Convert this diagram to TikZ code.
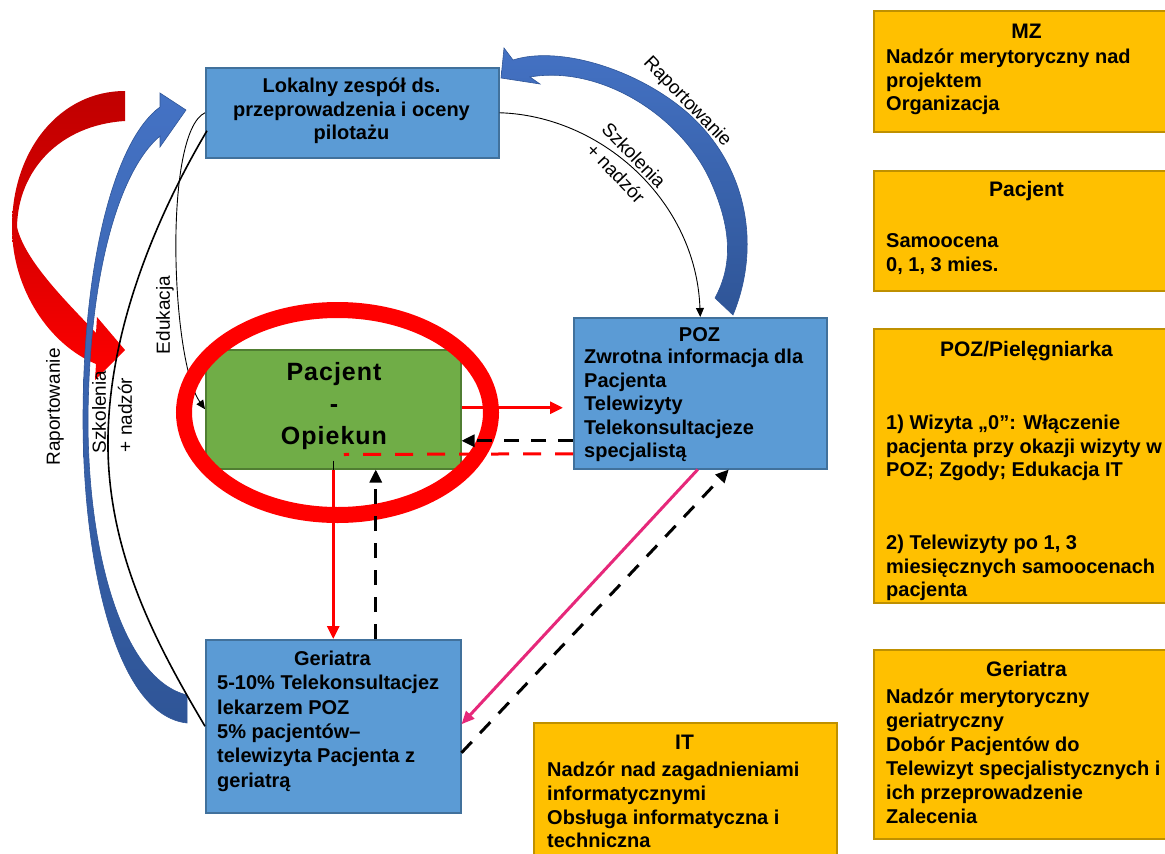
\documentclass[tikz,border=0pt]{standalone}
\usepackage{fontspec}
\setmainfont{Liberation Sans}
\usetikzlibrary{arrows.meta,calc,shapes.geometric}
\definecolor{boxblue}{HTML}{5B9BD5}
\definecolor{boxblueline}{HTML}{41719C}
\definecolor{boxgreen}{HTML}{70AD47}
\definecolor{boxgreenline}{HTML}{507E32}
\definecolor{boxyellow}{HTML}{FFC000}
\definecolor{boxyellowline}{HTML}{BF9000}
\definecolor{arrowblue}{HTML}{4472C4}
\definecolor{arrowbluedark}{HTML}{2F5597}
\definecolor{darkred}{HTML}{C00000}
\definecolor{pinkline}{HTML}{E6287A}
\begin{document}
\begin{tikzpicture}[x=1pt,y=-1pt,
  bluebox/.style={draw=boxblueline, fill=boxblue, line width=1.5pt, inner sep=0pt, anchor=north west},
  greenbox/.style={draw=boxgreenline, fill=boxgreen, line width=1.5pt, inner sep=0pt, anchor=north west},
  yellowbox/.style={draw=boxyellowline, fill=boxyellow, line width=1.5pt, inner sep=0pt, anchor=north west},
  bodytext/.style={font=\fontsize{20}{23.5}\selectfont\bfseries, inner sep=0pt, align=left, anchor=north west},
  titletext/.style={font=\fontsize{21}{24}\selectfont\bfseries, inner sep=0pt, anchor=north},
  lbl/.style={font=\fontsize{19}{22}\selectfont, inner sep=0pt},
  thinarrow/.style={draw=black, line width=0.9pt, -{Triangle[length=9pt,width=8pt]}},
  redarrow/.style={draw=red, line width=3pt, -{Triangle[length=13pt,width=12pt]}},
  blackdash/.style={draw=black, line width=3pt, dash pattern=on 15pt off 12pt, -{Triangle[length=13pt,width=12pt]}},
  reddash/.style={draw=red, line width=3pt, dash pattern=on 18pt off 14pt},
  pinkarrow/.style={draw=pinkline, line width=3pt, -{Triangle[length=13pt,width=11pt]}}
]
\useasboundingbox (0,0) rectangle (1165,854);
\clip (0,0) rectangle (1165,854);

% block arrows
\shade[top color=darkred, bottom color=red, middle color=red!85!black]
  (125,91) .. controls (60,91) and (12,150) .. (12,227)
  .. controls (12,290) and (50,345) .. (96,364)
  -- (95,380) -- (125,350) -- (97,317) -- (96,333)
  .. controls (70,305) and (25,262) .. (17,227)
  .. controls (18,170) and (60,125) .. (125,121) -- cycle;

\shade[draw=arrowbluedark, line width=0.6pt, top color=arrowblue, bottom color=arrowbluedark]
  (187,723) .. controls (115,715) and (83,560) .. (83,420)
  .. controls (83,260) and (115,140) .. (160,107)
  -- (160,93) -- (186,110) -- (160,147) -- (160,136)
  .. controls (120,170) and (89,270) .. (88,420)
  .. controls (88,560) and (125,680) .. (187,695) -- cycle;

\shade[draw=arrowbluedark, line width=0.6pt, top color=arrowblue, bottom color=arrowbluedark]
  (733,315) .. controls (760,250) and (750,170) .. (690,115)
  .. controls (640,70) and (560,45) .. (513,60)
  -- (504,48) -- (501,78) -- (540,84) -- (530,77)
  .. controls (600,65) and (680,115) .. (710,180)
  .. controls (735,235) and (730,270) .. (715,298) -- cycle;

% boxes
\node[bluebox, minimum width=293pt, minimum height=90pt] (lok) at (205,67) {};
\node[bluebox, minimum width=253pt, minimum height=151pt] (poz) at (573,317) {};
\node[greenbox, minimum width=255pt, minimum height=119pt] (pac) at (205,349) {};
\node[bluebox, minimum width=255pt, minimum height=173pt] (ger) at (205,639) {};
\node[yellowbox, minimum width=307pt, minimum height=121pt] (mz) at (873,10) {};
\node[yellowbox, minimum width=307pt, minimum height=120pt] (pacy) at (873,170) {};
\node[yellowbox, minimum width=307pt, minimum height=274pt] (pozy) at (873,328) {};
\node[yellowbox, minimum width=307pt, minimum height=189pt] (gery) at (873,649) {};
\node[yellowbox, minimum width=303pt, minimum height=150pt] (it) at (533,722) {};

% thin connectors
\draw[thinarrow] (lok.east) .. controls +(102,3) and +(-4,-116) .. (poz.north);
\draw[thinarrow] (lok.west) .. controls +(-42,20) and +(-34,-48) .. (pac.west);
\draw[line width=1.6pt] ($(lok.west)+(2,18)$) .. controls (160,210) and (106,330) .. (108,450)
  .. controls (110,560) and (160,650) .. (ger.west);

% highlight ellipse
\node[ellipse, draw=red, line width=16pt, minimum width=307pt, minimum height=205pt, inner sep=0pt] (hl) at (337.5,412.5) {};

% connectors around Pacjent
\draw[redarrow, shorten >=10pt] ($(pac.east)+(0,-1.5)$) -- ($(poz.west)+(0,14.5)$);
\draw[blackdash] ($(poz.west)+(0,47.5)$) -- ($(pac.east)+(0,31.5)$);
\draw[reddash] ($(poz.west)+(0,60.5)$) -- ($(pac.south)+(10.5,-15)$);
\draw[line width=1.2pt] ($(pac.south)+(0,-9)$) -- (pac.south);
\draw[redarrow] (pac.south) -- (ger.north);
\draw[blackdash] ($(ger.north)+(42.5,0)$) -- ($(pac.south)+(42.5,0)$);
\draw[pinkarrow] ($(poz.south)+(-2.5,0)$) -- ($(ger.east)+(0,-2)$);
\draw[blackdash] ($(ger.east)+(0,26.5)$) -- ($(poz.south)+(28.5,0)$);

% texts in boxes
\node[bodytext, align=center, anchor=north] (lokT) at (351.5,78) {Lokalny zespół ds.\\przeprowadzenia i oceny\\pilotażu};
\node[bodytext, anchor=north] (pozT) at (699.5,327) {POZ};
\node[bodytext] (pozB) at (584,349) {Zwrotna informacja dla\\Pacjenta\\Telewizyty\\Telekonsultacjeze\\specjalistą};
\node[font=\fontsize{25}{32}\selectfont\bfseries\addfontfeatures{LetterSpace=4}, inner sep=0pt, align=center, anchor=north] (pacT) at (334,362) {Pacjent\\-\\Opiekun};
\node[bodytext, anchor=north] (gerT) at (332.5,651) {Geriatra};
\node[bodytext, font=\fontsize{20}{24.4}\selectfont\bfseries] (gerB) at (217,675) {5-10\% Telekonsultacjez\\lekarzem POZ\\5\% pacjentów–\\telewizyta Pacjenta z\\geriatrą};

\node[titletext] (mzT) at (1026.5,24) {MZ};
\node[bodytext] (mzB) at (886,49) {Nadzór merytoryczny nad\\projektem\\Organizacja};
\node[titletext] (pacyT) at (1026.5,181) {Pacjent};
\node[bodytext, font=\fontsize{20}{24}\selectfont\bfseries] (pacyB) at (886,233) {Samoocena\\0, 1, 3 mies.};
\node[titletext] (pozyT) at (1026.5,341) {POZ/Pielęgniarka};
\node[bodytext] (pozyB1) at (886,415) {1) Wizyta „0”: Włączenie\\pacjenta przy okazji wizyty w\\POZ; Zgody; Edukacja IT};
\node[bodytext] (pozyB2) at (886,535) {2) Telewizyty po 1, 3\\miesięcznych samoocenach\\pacjenta};
\node[titletext] (geryT) at (1026.5,661) {Geriatra};
\node[bodytext, font=\fontsize{20}{24}\selectfont\bfseries] (geryB) at (886,689) {Nadzór merytoryczny\\geriatryczny\\Dobór Pacjentów do\\Telewizyt specjalistycznych i\\ich przeprowadzenie\\Zalecenia};
\node[titletext] (itT) at (684.5,735) {IT};
\node[bodytext, font=\fontsize{20}{23.7}\selectfont\bfseries] (itB) at (547,762) {Nadzór nad zagadnieniami\\informatycznymi\\Obsługa informatyczna i\\techniczna};

% connector labels
\node[lbl, rotate=-46] (szkR) at (634,155) {Szkolenia};
\node[lbl, rotate=-46] (nadzR) at (616,173) {+ nadzór};
\node[lbl, rotate=-46] (rapR) at (687,102) {Raportowanie};
\node[lbl, rotate=90] (edu) at (165,315) {Edukacja};
\node[lbl, rotate=90] (szkL) at (99,412) {Szkolenia};
\node[lbl, rotate=90] (nadzL) at (125,415) {+ nadzór};
\node[lbl, rotate=90] (rapL) at (55,407) {Raportowanie};
\end{tikzpicture}
\end{document}
